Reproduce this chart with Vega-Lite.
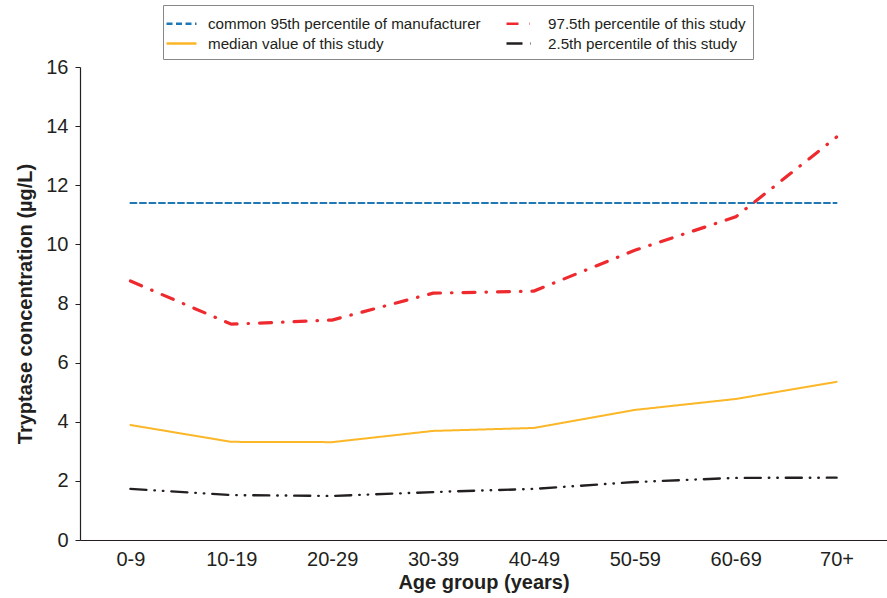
{
  "$schema": "https://vega.github.io/schema/vega-lite/v6.json",
  "width": 807,
  "height": 473,
  "autosize": {"type": "none"},
  "padding": {"left": 80, "top": 67, "right": 0, "bottom": 58},
  "background": "white",
  "config": {
    "view": {"stroke": null},
    "font": "Liberation Sans",
    "axis": {"labelColor": "#231f20", "titleColor": "#231f20", "domainColor": "#231f20", "tickColor": "#231f20", "grid": false}
  },
  "data": {
    "values": [
      {"age": "0-9", "series": "common 95th percentile of manufacturer", "value": 11.4},
      {"age": "10-19", "series": "common 95th percentile of manufacturer", "value": 11.4},
      {"age": "20-29", "series": "common 95th percentile of manufacturer", "value": 11.4},
      {"age": "30-39", "series": "common 95th percentile of manufacturer", "value": 11.4},
      {"age": "40-49", "series": "common 95th percentile of manufacturer", "value": 11.4},
      {"age": "50-59", "series": "common 95th percentile of manufacturer", "value": 11.4},
      {"age": "60-69", "series": "common 95th percentile of manufacturer", "value": 11.4},
      {"age": "70+", "series": "common 95th percentile of manufacturer", "value": 11.4},
      {"age": "0-9", "series": "97.5th percentile of this study", "value": 8.76},
      {"age": "10-19", "series": "97.5th percentile of this study", "value": 7.3},
      {"age": "20-29", "series": "97.5th percentile of this study", "value": 7.44},
      {"age": "30-39", "series": "97.5th percentile of this study", "value": 8.35},
      {"age": "40-49", "series": "97.5th percentile of this study", "value": 8.42},
      {"age": "50-59", "series": "97.5th percentile of this study", "value": 9.8},
      {"age": "60-69", "series": "97.5th percentile of this study", "value": 10.93},
      {"age": "70+", "series": "97.5th percentile of this study", "value": 13.63},
      {"age": "0-9", "series": "median value of this study", "value": 3.89},
      {"age": "10-19", "series": "median value of this study", "value": 3.32},
      {"age": "20-29", "series": "median value of this study", "value": 3.31},
      {"age": "30-39", "series": "median value of this study", "value": 3.69},
      {"age": "40-49", "series": "median value of this study", "value": 3.79},
      {"age": "50-59", "series": "median value of this study", "value": 4.4},
      {"age": "60-69", "series": "median value of this study", "value": 4.77},
      {"age": "70+", "series": "median value of this study", "value": 5.35},
      {"age": "0-9", "series": "2.5th percentile of this study", "value": 1.73},
      {"age": "10-19", "series": "2.5th percentile of this study", "value": 1.52},
      {"age": "20-29", "series": "2.5th percentile of this study", "value": 1.49},
      {"age": "30-39", "series": "2.5th percentile of this study", "value": 1.62},
      {"age": "40-49", "series": "2.5th percentile of this study", "value": 1.73},
      {"age": "50-59", "series": "2.5th percentile of this study", "value": 1.96},
      {"age": "60-69", "series": "2.5th percentile of this study", "value": 2.1},
      {"age": "70+", "series": "2.5th percentile of this study", "value": 2.11}
    ]
  },
  "mark": {"type": "line", "strokeCap": "round"},
  "encoding": {
    "x": {
      "field": "age", "type": "ordinal",
      "sort": ["0-9", "10-19", "20-29", "30-39", "40-49", "50-59", "60-69", "70+"],
      "scale": {"type": "point", "padding": 0.5},
      "axis": {"title": "Age group (years)", "labelAngle": 0, "ticks": false, "labelFontSize": 20, "labelPadding": 9, "titleFontSize": 20, "titleFontWeight": "bold", "titlePadding": 3, "domainWidth": 1.2}
    },
    "y": {
      "field": "value", "type": "quantitative",
      "scale": {"domain": [0, 16], "nice": false},
      "axis": {"title": "Tryptase concentration (µg/L)", "values": [0, 2, 4, 6, 8, 10, 12, 14, 16], "labelFontSize": 20, "tickSize": 5, "labelPadding": 7, "titleFontSize": 20, "titleFontWeight": "bold", "titlePadding": 10, "domainWidth": 1.2}
    },
    "color": {
      "field": "series", "type": "nominal",
      "scale": {
        "domain": ["common 95th percentile of manufacturer", "median value of this study", "97.5th percentile of this study", "2.5th percentile of this study"],
        "range": ["#1f77b4", "#fbb728", "#ee2a2f", "#231f20"]
      },
      "legend": {
        "title": null, "orient": "none", "legendX": 83, "legendY": -62,
        "columns": 2, "columnPadding": 20, "rowPadding": 0,
        "strokeColor": "#888888", "padding": 7,
        "symbolType": "M-1.5,0H1.5", "symbolSize": 400, "symbolStrokeWidth": 2.5,
        "labelFontSize": 15.2, "labelColor": "#231f20", "labelLimit": 400, "labelOffset": 15
      }
    },
    "strokeDash": {
      "field": "series", "type": "nominal",
      "scale": {
        "domain": ["common 95th percentile of manufacturer", "median value of this study", "97.5th percentile of this study", "2.5th percentile of this study"],
        "range": [[6, 3.5], [1, 0], [12, 11, 0.5, 11], [16, 8, 0.5, 8, 0.5, 8]]
      },
      "legend": null
    },
    "strokeWidth": {
      "condition": [
        {"test": "datum.series === '97.5th percentile of this study'", "value": 3.2},
        {"test": "datum.series === '2.5th percentile of this study'", "value": 2.4}
      ],
      "value": 2
    }
  }
}
